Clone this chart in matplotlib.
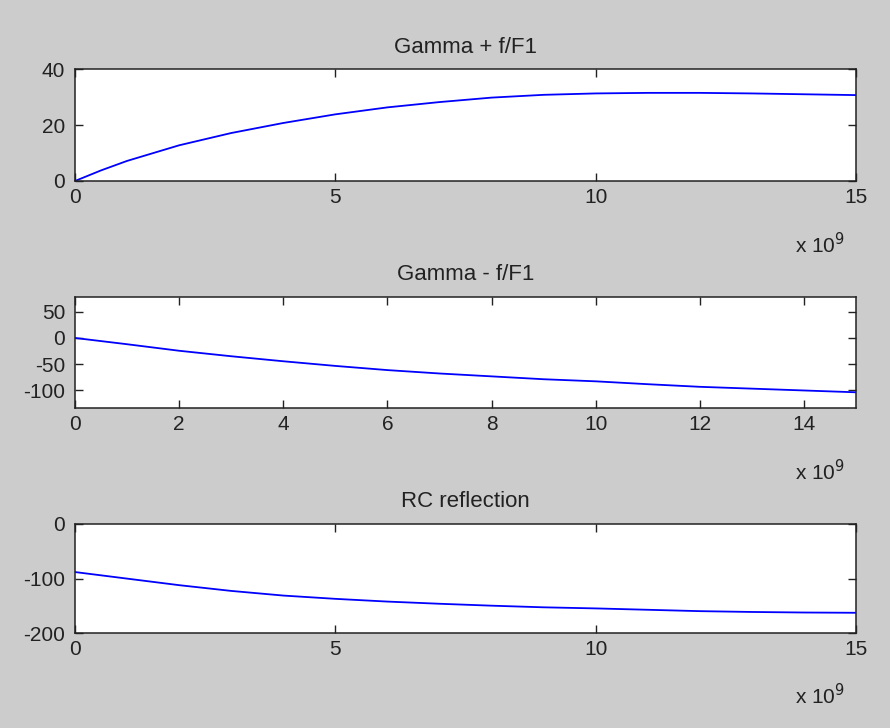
import numpy as np
import matplotlib.pyplot as plt

# frequency axis in GHz (plotted in Hz)
freq_ghz = [0, 0.5, 1, 2, 3, 4, 5, 6, 7, 8, 9, 10, 11, 12, 13, 14, 15]

gamma_plus = [0, 3.8, 7.2, 12.8, 17.2, 20.8, 23.9, 26.4, 28.3, 29.9, 30.9,
              31.4, 31.6, 31.6, 31.4, 31.1, 30.8]
gamma_minus = [0, -6, -12, -24.5, -35, -44.6, -53.5, -61.5, -68, -73.5, -79,
               -83, -88.5, -93.5, -97, -100.5, -104]
rc_refl = [-88, -94, -100, -112, -122.5, -131, -137, -142, -146, -149.5,
           -152.5, -154.5, -157, -159.5, -161, -162, -162.5]

titles = ['Gamma + f/F1', 'Gamma - f/F1', 'RC reflection']
xticks = [[0, 5, 10, 15], [0, 2, 4, 6, 8, 10, 12, 14], [0, 5, 10, 15]]
yticks = [[0, 20, 40], [-100, -50, 0, 50], [-200, -100, 0]]
ylims = [(0, 40), (-134, 78.5), (-200, 0)]

plt.rcParams['font.family'] = 'Liberation Sans'
plt.rcParams['font.size'] = 15
plt.rcParams['text.color'] = '#222222'
plt.rcParams['xtick.labelcolor'] = '#222222'
plt.rcParams['ytick.labelcolor'] = '#222222'

fig = plt.figure(figsize=(8.9, 7.28), dpi=100, facecolor='#cccccc')

# axes boxes [left, bottom, width, height] in figure fraction
boxes = [[0.0843, 0.7514, 0.8775, 0.1532],
         [0.0843, 0.4396, 0.8775, 0.1525],
         [0.0843, 0.1301, 0.8775, 0.1502]]

f = np.array(freq_ghz) * 1e9
series = [gamma_plus, gamma_minus, rc_refl]

for i in range(3):
    ax = fig.add_axes(boxes[i])
    ax.plot(f, series[i], color='blue', linewidth=1.3)
    ax.set_xlim(0, 15e9)
    ax.set_ylim(*ylims[i])
    ax.set_xticks(np.array(xticks[i]) * 1e9)
    ax.set_xticklabels([str(t) for t in xticks[i]])
    ax.set_yticks(yticks[i])
    ax.set_yticklabels([str(t) for t in yticks[i]])
    ax.tick_params(direction='in', length=5.5, width=1, top=True, right=True,
                   color='#222222')
    ax.tick_params(axis='x', pad=5)
    ax.tick_params(axis='y', pad=7)
    for s in ax.spines.values():
        s.set_linewidth(1.1)
        s.set_color('#222222')
    ax.set_title(titles[i], fontsize=16, pad=12)
    ax.text(0.954, -0.57, r'x 10$^{9}$', transform=ax.transAxes,
            ha='center', va='center', fontsize=15)

fig.savefig('out.png', dpi=100, facecolor=fig.get_facecolor())
